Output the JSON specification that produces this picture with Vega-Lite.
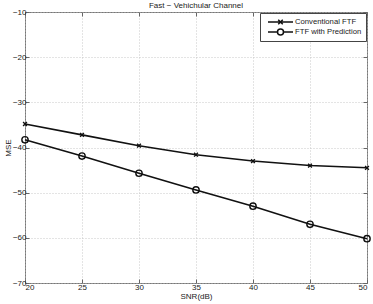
{
  "$schema": "https://vega.github.io/schema/vega-lite/v6.json",
  "autosize": {"type": "none"},
  "width": 342,
  "height": 271,
  "padding": {"left": 25, "top": 12, "right": 6, "bottom": 21},
  "background": "white",
  "title": {"text": "Fast − Vehichular Channel", "fontSize": 8, "fontWeight": "normal", "font": "Liberation Sans", "color": "#222", "offset": 0, "dy": 2},
  "config": {
    "font": "Liberation Sans",
    "view": {"stroke": "#777", "strokeWidth": 1},
    "axis": {
      "labelFont": "Liberation Sans", "labelFontSize": 8, "labelColor": "#222",
      "titleFont": "Liberation Sans", "titleFontSize": 8, "titleFontWeight": "normal", "titleColor": "#222",
      "domain": false, "tickColor": "#666", "tickSize": -4,
      "gridColor": "#bbb", "gridDash": [1, 2], "gridWidth": 0.8
    }
  },
  "data": {"values": [
    {"snr": 20, "mse": -34.8, "series": "Conventional FTF"},
    {"snr": 25, "mse": -37.2, "series": "Conventional FTF"},
    {"snr": 30, "mse": -39.6, "series": "Conventional FTF"},
    {"snr": 35, "mse": -41.6, "series": "Conventional FTF"},
    {"snr": 40, "mse": -43.0, "series": "Conventional FTF"},
    {"snr": 45, "mse": -44.0, "series": "Conventional FTF"},
    {"snr": 50, "mse": -44.5, "series": "Conventional FTF"},
    {"snr": 20, "mse": -38.3, "series": "FTF with Prediction"},
    {"snr": 25, "mse": -41.9, "series": "FTF with Prediction"},
    {"snr": 30, "mse": -45.7, "series": "FTF with Prediction"},
    {"snr": 35, "mse": -49.4, "series": "FTF with Prediction"},
    {"snr": 40, "mse": -53.0, "series": "FTF with Prediction"},
    {"snr": 45, "mse": -57.0, "series": "FTF with Prediction"},
    {"snr": 50, "mse": -60.2, "series": "FTF with Prediction"}
  ]},
  "resolve": {"scale": {"x": "independent", "y": "independent"}, "axis": {"x": "independent", "y": "independent"}},
  "layer": [
    {
      "mark": {"type": "point", "opacity": 0},
      "encoding": {
        "x": {"field": "snr", "type": "quantitative", "scale": {"domain": [20, 50], "nice": false, "zero": false},
              "axis": {"orient": "top", "title": null, "labels": false, "grid": false, "values": [20, 25, 30, 35, 40, 45, 50]}},
        "y": {"field": "mse", "type": "quantitative", "scale": {"domain": [-70, -10], "nice": false, "zero": false},
              "axis": {"orient": "right", "title": null, "labels": false, "grid": false, "values": [-70, -60, -50, -40, -30, -20, -10]}}
      }
    },
    {
      "encoding": {
        "x": {"field": "snr", "type": "quantitative", "scale": {"domain": [20, 50], "nice": false, "zero": false},
              "axis": {"orient": "bottom", "title": "SNR(dB)", "grid": true, "values": [20, 25, 30, 35, 40, 45, 50], "labelPadding": 4, "titlePadding": 1}},
        "y": {"field": "mse", "type": "quantitative", "scale": {"domain": [-70, -10], "nice": false, "zero": false},
              "axis": {"orient": "left", "title": "MSE", "grid": true, "values": [-70, -60, -50, -40, -30, -20, -10], "labelPadding": 3, "titlePadding": 0}}
      },
      "layer": [
        {
          "mark": {"type": "line", "strokeWidth": 1.6},
          "encoding": {
            "color": {"field": "series", "type": "nominal",
              "scale": {"domain": ["Conventional FTF", "FTF with Prediction"], "range": ["#111", "#111"]},
              "legend": {
                "title": null, "orient": "top-right", "offset": 1,
                "strokeColor": "#444", "fillColor": "white", "padding": 4,
                "labelFont": "Liberation Sans", "labelFontSize": 7.7, "labelColor": "#222",
                "labelOffset": 1, "rowPadding": 0, "clipHeight": 10, "symbolOffset": 3,
                "symbolType": "stroke", "symbolSize": 625, "symbolStrokeWidth": 1.5,
                "encode": {"symbols": {"update": {
                  "shape": {"signal": "datum.value === 'Conventional FTF' ? 'M-1,0H1M-0.18,-0.18L0.18,0.18M-0.18,0.18L0.18,-0.18' : 'M-1,0H-0.24M0.24,0H1M0.24,0A0.24,0.24 0 1,1 -0.24,0A0.24,0.24 0 1,1 0.24,0'"},
                  "size": {"value": 625},
                  "stroke": {"value": "#111"},
                  "fill": {"value": "transparent"},
                  "strokeWidth": {"value": 1.5}
                }}}
              }}
          }
        },
        {
          "transform": [{"filter": "datum.series === 'Conventional FTF'"}],
          "mark": {"type": "point", "filled": false, "color": "#111", "strokeWidth": 1.4, "opacity": 1,
                   "shape": "M-0.6,-0.6L0.6,0.6M-0.6,0.6L0.6,-0.6", "size": 40}
        },
        {
          "transform": [{"filter": "datum.series === 'FTF with Prediction'"}],
          "mark": {"type": "point", "filled": false, "color": "#111", "strokeWidth": 1.4, "opacity": 1,
                   "shape": "circle", "size": 40}
        }
      ]
    }
  ]
}
